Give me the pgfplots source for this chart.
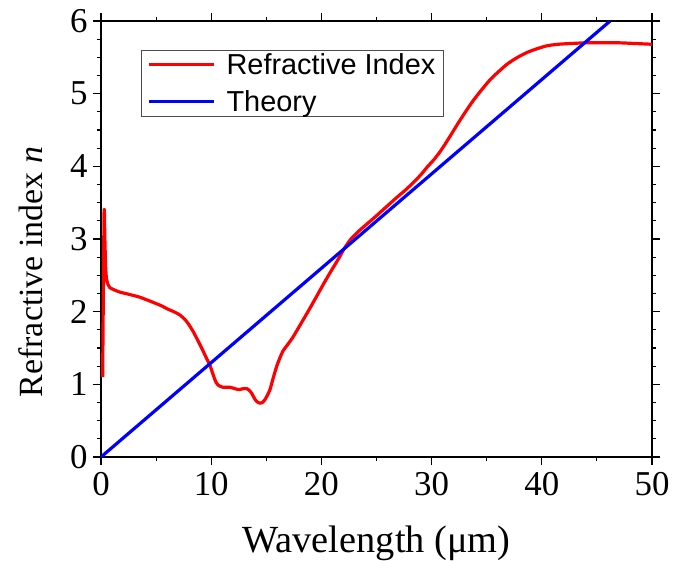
\documentclass[border=0pt]{standalone}
\usepackage{fontspec}
\setmainfont{Liberation Serif}
\newfontfamily\legendfont{Liberation Sans}
\usepackage{pgfplots}
\pgfplotsset{compat=1.18}

\pgfplotstableread{
x y
0.15 1.10
0.28 3.36
0.35 3.00
0.42 2.62
0.50 2.45
0.65 2.37
0.80 2.33
1.20 2.30
1.70 2.27
2.50 2.24
3.50 2.20
4.70 2.13
5.50 2.08
6.00 2.04
6.60 2.00
7.20 1.95
7.80 1.86
8.35 1.73
8.80 1.60
9.26 1.46
9.60 1.35
9.89 1.26
10.16 1.14
10.40 1.04
10.62 0.99
10.85 0.97
11.07 0.96
11.40 0.96
11.71 0.96
11.95 0.95
12.16 0.94
12.40 0.93
12.61 0.93
12.90 0.94
13.25 0.94
13.50 0.91
13.70 0.87
13.95 0.80
14.16 0.76
14.43 0.74
14.65 0.75
14.88 0.79
15.10 0.85
15.34 0.93
15.65 1.10
15.97 1.26
16.25 1.37
16.52 1.46
17.00 1.56
17.42 1.65
18.20 1.85
18.97 2.05
19.60 2.22
20.30 2.41
21.00 2.59
21.60 2.74
22.00 2.85
22.60 2.985
23.30 3.095
24.00 3.19
24.70 3.28
25.80 3.43
26.90 3.58
27.60 3.67
28.30 3.77
29.00 3.88
29.60 3.99
30.20 4.09
30.76 4.20
31.20 4.30
31.70 4.42
32.60 4.64
33.80 4.91
35.30 5.19
36.80 5.40
37.80 5.50
38.70 5.57
39.60 5.62
40.50 5.66
41.50 5.68
42.60 5.69
44.00 5.70
45.50 5.70
47.00 5.70
48.50 5.69
50.00 5.68
}\refindex

\pgfplotstableread{
x y
0 0
46.2 6
}\theory

\begin{document}
\begin{tikzpicture}
\begin{axis}[
  name=ax,
  scale only axis,
  width=551bp, height=436bp,
  xmin=0, xmax=50, ymin=0, ymax=6,
  xtick={0,10,...,50}, ytick={0,1,...,6},
  minor x tick num=1, minor y tick num=3,
  tick align=outside,
  major tick length=8bp, minor tick length=4bp,
  every tick/.style={black, line width=1.1pt},
  axis line style={black, line width=1.1pt},
  /pgf/number format/assume math mode=true,
  tick label style={font=\fontsize{35}{40}\selectfont},
  xticklabel style={yshift=-4bp},
  yticklabel style={xshift=-2bp},
  xlabel={Wavelength (μm)},
  ylabel={Refractive index \textit{n}},
  xlabel style={font=\fontsize{38.5}{44}\selectfont,
    at={(axis description cs:0.5,-0.197)}, anchor=center},
  ylabel style={font=\fontsize{34}{40}\selectfont,
    at={(axis description cs:-0.128,0.424)}, anchor=center},
  legend style={
    at={(axis description cs:0.0726,0.934)}, anchor=north west,
    draw=black!70, line width=0.8pt,
    font=\legendfont\fontsize{29}{34}\selectfont,
    inner xsep=6bp, inner ysep=1.5bp,
    row sep=10bp,
    /tikz/every odd column/.append style={column sep=9bp},
  },
  legend cell align=left,
  legend image code/.code={\draw[#1, line width=3.2pt] (0bp,0bp) -- (65bp,0bp);},
]
\addplot[red, line width=3.2pt, line join=round, smooth, tension=0.4] table[x=x, y=y] {\refindex};
\addlegendentry{Refractive Index}
\addplot[blue, line width=3.2pt] table[x=x, y=y] {\theory};
\addlegendentry{Theory}
\end{axis}
\pgfresetboundingbox
\path[use as bounding box] ([shift={(-101bp,-104bp)}]ax.south west) rectangle ++(673bp,561bp);
\end{tikzpicture}
\end{document}
